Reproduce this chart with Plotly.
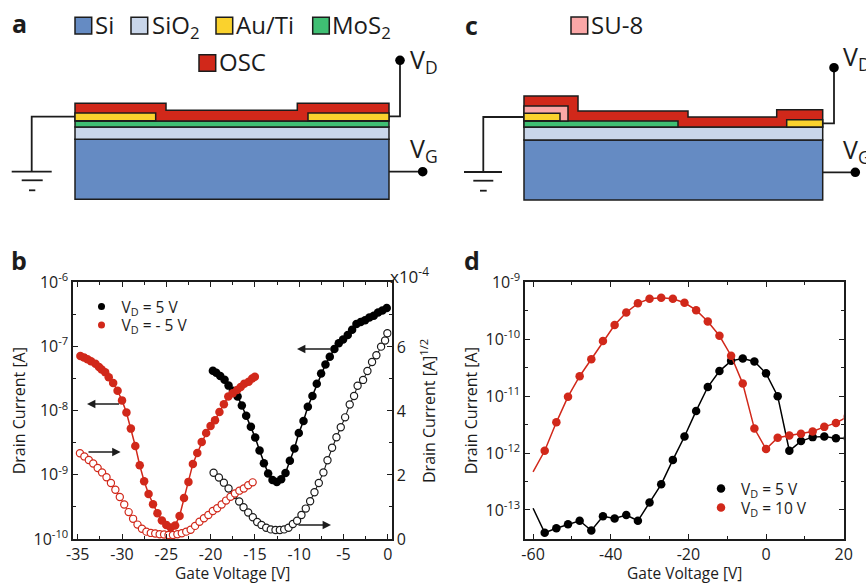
import plotly.graph_objects as go

W, H = 866, 583
FONT = "Open Sans"
INK = "#1c1c1c"
RED = "#d1281a"

# ---------- panel b: drain current (log10 A) and sqrt current (1e-4 A^1/2) ----------
b_red_v = [-34.7,-34.3,-33.9,-33.5,-33.0,-32.6,-32.3,-31.9,-31.5,-31,-30.5,-30,-29.5,-29,-28.5,-28,-27.5,-27,-26.5,-26,-25.5,-25,-24.5,-24,-23.5,-23,-22.5,-22,-21.5,-21,-20.5,-20,-19.5,-19,-18.5,-18,-17.5,-17,-16.6,-16.2,-15.7,-15.3,-15]
b_red_log = [-7.15,-7.17,-7.20,-7.23,-7.27,-7.32,-7.36,-7.40,-7.48,-7.57,-7.69,-7.84,-8.03,-8.28,-8.55,-8.85,-9.10,-9.30,-9.46,-9.60,-9.71,-9.78,-9.82,-9.79,-9.64,-9.36,-9.11,-8.83,-8.66,-8.49,-8.35,-8.24,-8.15,-8.02,-7.90,-7.78,-7.73,-7.68,-7.63,-7.58,-7.55,-7.50,-7.47]
b_blk_v = [-19.74,-19.36,-18.91,-18.42,-17.97,-17.48,-16.95,-16.47,-15.98,-15.45,-14.96,-14.47,-13.98,-13.5,-13.01,-12.52,-12.03,-11.54,-11.05,-10.53,-10.04,-9.51,-9.02,-8.5,-8.01,-7.52,-7.03,-6.54,-6.02,-5.53,-5.04,-4.51,-4.02,-3.53,-3.05,-2.56,-2.07,-1.58,-1.09,-0.6,-0.11]
b_blk_log = [-7.38,-7.41,-7.46,-7.52,-7.61,-7.69,-7.78,-7.92,-8.08,-8.25,-8.42,-8.62,-8.82,-8.98,-9.08,-9.11,-9.07,-8.97,-8.78,-8.59,-8.35,-8.16,-7.94,-7.77,-7.58,-7.42,-7.28,-7.16,-7.04,-6.95,-6.89,-6.82,-6.74,-6.65,-6.62,-6.59,-6.55,-6.52,-6.47,-6.44,-6.40]
b_red_open_v = [-34.75,-34.25,-33.75,-33.25,-32.75,-32.25,-31.75,-31.25,-30.75,-30.25,-29.75,-29.25,-28.75,-28.25,-27.75,-27.25,-26.75,-26.25,-25.75,-25.25,-24.75,-24.25,-23.75,-23.25,-22.75,-22.25,-21.75,-21.25,-20.75,-20.25,-19.75,-19.25,-18.75,-18.25,-17.75,-17.25,-16.75,-16.25,-15.75,-15.25]
b_red_open = [2.68,2.58,2.47,2.36,2.22,2.08,1.93,1.75,1.54,1.31,1.08,0.84,0.63,0.45,0.32,0.23,0.19,0.17,0.15,0.14,0.125,0.125,0.15,0.18,0.23,0.29,0.41,0.54,0.65,0.75,0.875,0.96,1.08,1.20,1.32,1.42,1.51,1.58,1.68,1.77]
b_blk_open_v = [-19.66,-19.06,-18.5,-17.97,-17.37,-16.77,-16.28,-15.75,-15.23,-14.74,-14.25,-13.72,-13.2,-12.67,-12.18,-11.69,-11.2,-10.71,-10.23,-9.74,-9.25,-8.76,-8.27,-7.78,-7.26,-6.8,-6.28,-5.79,-5.3,-4.81,-4.29,-3.8,-3.4,-2.78,-2.29,-1.77,-1.28,-0.75,-0.3,-0.04]
b_blk_open = [2.07,1.92,1.76,1.58,1.375,1.17,0.99,0.83,0.68,0.53,0.44,0.35,0.30,0.28,0.28,0.30,0.35,0.47,0.57,0.75,0.95,1.18,1.46,1.75,2.08,2.46,2.85,3.18,3.49,3.80,4.20,4.47,4.79,4.97,5.25,5.53,5.74,6.01,6.20,6.43]

# ---------- panel d ----------
d_v = [-60,-57,-54,-51,-48,-45,-42,-39,-36,-33,-30,-27,-24,-21,-18,-15,-12,-9,-6,-3,0,3,6,9,12,15,18,21]
d_5v_log = [-12.97,-13.40,-13.32,-13.25,-13.19,-13.36,-13.11,-13.15,-13.09,-13.19,-12.87,-12.55,-12.12,-11.71,-11.26,-10.84,-10.56,-10.38,-10.34,-10.39,-10.60,-11.00,-11.96,-11.79,-11.72,-11.71,-11.74,-11.74]
d_10v_log = [-12.33,-11.96,-11.46,-11.01,-10.65,-10.35,-10.03,-9.75,-9.53,-9.37,-9.29,-9.27,-9.29,-9.36,-9.49,-9.69,-9.94,-10.29,-10.78,-11.57,-11.93,-11.73,-11.69,-11.66,-11.62,-11.54,-11.47,-11.36]

# ---------- schematic colours ----------
C_SI, C_SIO2, C_AU, C_MOS2, C_OSC, C_SU8 = "#658bc3", "#c9d6ea", "#fad22d", "#3fbf73", "#d1281a", "#fba7a7"


def X(x): return x / W
def Y(y): return 1 - y / H


def poly(points, fill, lw=1.5):
    path = "M" + "L".join(f"{X(a):.5f},{Y(b):.5f}" for a, b in points) + "Z"
    return dict(type="path", xref="paper", yref="paper", path=path, fillcolor=fill,
                line=dict(color=INK, width=lw), layer="above")


def rect(x0, y0, x1, y1, fill, lw=1.5):
    return poly([(x0, y0), (x1, y0), (x1, y1), (x0, y1)], fill, lw)


def wire(points, lw=1.8):
    path = "M" + "L".join(f"{X(a):.5f},{Y(b):.5f}" for a, b in points)
    return dict(type="path", xref="paper", yref="paper", path=path,
                line=dict(color=INK, width=lw), layer="above")


def dot(cx, cy, r=4.8):
    return dict(type="circle", xref="paper", yref="paper", x0=X(cx - r), x1=X(cx + r),
                y0=Y(cy + r), y1=Y(cy - r), fillcolor="#000", line=dict(color="#000", width=0), layer="above")


def text(x, y, s, size=24, anchor="left", weight=None, angle=0, family=FONT):
    return dict(xref="paper", yref="paper", x=X(x), y=Y(y), text=s, showarrow=False,
                xanchor=anchor, yanchor="middle", textangle=angle,
                font=dict(family=family, size=size, color=INK, weight=weight))


def arrow(x_tail, x_head, y):
    return dict(xref="paper", yref="paper", x=X(x_head), y=Y(y), ax=x_tail - x_head, ay=0,
                text="", showarrow=True, arrowhead=2, arrowsize=1.2, arrowwidth=1.4, arrowcolor=INK)


shapes = [
    # panel a device
    rect(75, 139.3, 389, 199.3, C_SI), rect(75, 127, 389, 139.3, C_SIO2), rect(75, 121, 389, 127, C_MOS2),
    poly([(75, 103.3), (166, 103.3), (166, 110.3), (297.3, 110.3), (297.3, 103.3), (389, 103.3), (389, 121), (75, 121)], C_OSC),
    rect(75, 113, 155.7, 120.7, C_AU), rect(308, 113, 389, 120.7, C_AU),
    wire([(75, 116.7), (31.7, 116.7), (31.7, 171.7)]),
    wire([(11.7, 171.7), (51.7, 171.7)]), wire([(21.7, 180.3), (42.7, 180.3)]), wire([(29, 190.3), (35.3, 190.3)]),
    wire([(389, 116.3), (400, 116.3), (400, 60.3)]), dot(400, 60.3),
    wire([(389, 171.7), (422.7, 171.7)]), dot(422.7, 171.7),
    rect(75, 17.3, 91.7, 34, C_SI), rect(131, 17.3, 147.7, 34, C_SIO2), rect(216, 17.3, 232.7, 34, C_AU),
    rect(312.7, 17.3, 329.3, 34, C_MOS2), rect(199, 54.7, 215.7, 71.3, C_OSC),
    # panel c device
    rect(524, 140, 822.7, 200, C_SI), rect(524, 127, 822.7, 140, C_SIO2),
    poly([(524, 96), (578, 96), (578, 111), (688, 111), (688, 117), (776.7, 117), (776.7, 109.7), (822.7, 109.7), (822.7, 127), (524, 127)], C_OSC),
    rect(524, 121, 678, 127, C_MOS2), rect(524, 106, 568, 121, C_SU8), rect(524, 113.3, 560, 120.7, C_AU),
    rect(786.7, 119.7, 822.7, 127, C_AU),
    wire([(524, 117), (483.3, 117), (483.3, 172)]),
    wire([(464, 172), (502, 172)]), wire([(473.3, 180.7), (493.3, 180.7)]), wire([(480, 190.7), (486.7, 190.7)]),
    wire([(822.7, 123.3), (834, 123.3), (834, 67.7)]), dot(834, 67.7),
    wire([(822.7, 172.3), (855.3, 172.3)]), dot(855.3, 172.3),
    rect(571, 17, 587.7, 34, C_SU8),
]

annotations = [
    text(10, 23, "a", 25, weight="bold"), text(9, 260, "b", 25, weight="bold"),
    text(463, 25, "c", 25, weight="bold"), text(462, 260, "d", 25, weight="bold"),
    text(92.5, 25, "Si"), text(149.5, 26, "SiO<sub>2</sub>"), text(233.5, 25, "Au/Ti"), text(330, 26, "MoS<sub>2</sub>"),
    text(216.5, 62, "OSC"), text(588.5, 25, "SU-8"),
    text(407.5, 60, "V<sub>D</sub>", 25), text(407.5, 149, "V<sub>G</sub>", 25),
    text(841, 57, "V<sub>D</sub>", 25), text(841, 150, "V<sub>G</sub>", 25),
    text(388, 275, "x10<sup>-4</sup>", 17),
    text(428, 411, "Drain Current [A]<sup>1/2</sup>", 16, anchor="center", angle=-90),
    text(232.5, 572.5, "Gate Voltage [V]", 15.5, anchor="center"),
    text(684.5, 572.5, "Gate Voltage [V]", 15.5, anchor="center"),
    arrow(120.6, 87, 404), arrow(87, 120.6, 452), arrow(331.7, 297, 349), arrow(297, 331, 525),
]

fig = go.Figure()


def pow10(v): return [10 ** a for a in v]


# open symbols, right axis of panel b
fig.add_trace(go.Scatter(x=b_blk_open_v, y=b_blk_open, mode="lines+markers", yaxis="y2", showlegend=False,
                         line=dict(color=INK, width=1.1), marker=dict(size=7.2, color="white", line=dict(color=INK, width=1.2))))
fig.add_trace(go.Scatter(x=b_red_open_v, y=b_red_open, mode="lines+markers", yaxis="y2", showlegend=False,
                         line=dict(color=RED, width=1.1), marker=dict(size=7.2, color="white", line=dict(color=RED, width=1.2))))
# filled symbols, left axis of panel b
for vs, ls, col in [(b_blk_v, b_blk_log, "#000000"), (b_red_v, b_red_log, RED)]:
    fig.add_trace(go.Scatter(x=vs, y=pow10(ls), mode="lines+markers", showlegend=False,
                             line=dict(color=col, width=1.5), marker=dict(size=8.5, color=col)))
# legend entries, panel b
for col, name, leg in [("#000000", "V<sub>D</sub> = 5 V", "legend"), (RED, "V<sub>D</sub> = - 5 V", "legend2")]:
    fig.add_trace(go.Scatter(x=[None], y=[None], mode="markers", name=name, marker=dict(size=7, color=col), legend=leg))

# panel d
for ls, col, name, leg in [(d_5v_log, "#000000", "V<sub>D</sub> = 5 V", "legend3"), (d_10v_log, RED, "V<sub>D</sub> = 10 V", "legend4")]:
    fig.add_trace(go.Scatter(x=d_v, y=pow10(ls), mode="lines", xaxis="x2", yaxis="y3", showlegend=False,
                             line=dict(color=col, width=1.5)))
    fig.add_trace(go.Scatter(x=d_v[1:], y=pow10(ls)[1:], mode="markers", xaxis="x2", yaxis="y3", name=name,
                             marker=dict(size=8.5, color=col), legend=leg))

axis_common = dict(showgrid=False, zeroline=False, showline=True, linecolor=INK, linewidth=1.8, automargin=False,
                   ticks="inside", ticklen=5, tickwidth=1.4, tickcolor=INK,
                   tickfont=dict(family=FONT, size=16, color=INK))
minor_common = dict(ticks="inside", ticklen=3, tickwidth=1.4, tickcolor=INK, showgrid=False)
title_font = dict(family=FONT, size=16, color=INK)

bx_ticks = [-35, -30, -25, -20, -15, -10, -5, 0]
bx_labels = ["-35", "-30", "-25", "-20", "-15", "-10", "-5", "0"]
by_ticks = [1e-10, 1e-9, 1e-8, 1e-7, 1e-6]
by_labels = ["10<sup>-10</sup>", "10<sup>-9</sup>", "10<sup>-8</sup>", "10<sup>-7</sup>", "10<sup>-6</sup>"]
by_minor = [10 ** -9.5, 10 ** -8.5, 10 ** -7.5, 10 ** -6.5]
dx_ticks = [-60, -40, -20, 0, 20]
dx_labels = ["-60", "-40", "-20", "0", "20"]
dy_ticks = [1e-13, 1e-12, 1e-11, 1e-10, 1e-9]
dy_labels = ["10<sup>-13</sup>", "10<sup>-12</sup>", "10<sup>-11</sup>", "10<sup>-10</sup>", "10<sup>-9</sup>"]
dy_minor = [10 ** -12.5, 10 ** -11.5, 10 ** -10.5, 10 ** -9.5]


def one_legend(left, top):
    return dict(x=X(left), y=Y(top), xanchor="left", yanchor="top", bgcolor="rgba(0,0,0,0)",
                font=dict(family=FONT, size=15.5, color=INK), itemclick=False)


fig.update_layout(
    width=W, height=H, margin=dict(l=0, r=0, t=0, b=0, autoexpand=False), paper_bgcolor="white", plot_bgcolor="rgba(0,0,0,0)",
    font=dict(family=FONT, color=INK), shapes=shapes, annotations=annotations,
    xaxis=dict(axis_common, domain=[X(73.3), X(391.7)], range=[-35.5, 0.45], anchor="y", mirror="ticks",
               tickmode="array", tickvals=bx_ticks, ticktext=bx_labels,
               minor=dict(minor_common, dtick=2.5, tick0=0)),
    yaxis=dict(axis_common, type="log", domain=[Y(539), Y(282.3)], range=[-10, -6], anchor="x",
               tickmode="array", tickvals=by_ticks, ticktext=by_labels,
               minor=dict(minor_common, tickmode="array", tickvals=by_minor),
               title=dict(text="Drain Current [A]", font=title_font, standoff=4)),
    yaxis2=dict(axis_common, overlaying="y", side="right", anchor="x", range=[0, 8.02],
                tickmode="array", tickvals=[0, 2, 4, 6], ticktext=["0", "2", "4", "6"],
                minor=dict(minor_common, tickmode="array", tickvals=[1, 3, 5, 7])),
    xaxis2=dict(axis_common, domain=[X(525.3), X(843.7)], range=[-62, 20], anchor="y3", mirror="ticks",
                tickmode="array", tickvals=dx_ticks, ticktext=dx_labels,
                minor=dict(minor_common, dtick=10, tick0=0)),
    yaxis3=dict(axis_common, type="log", domain=[Y(539), Y(282.3)], range=[-13.51, -9], anchor="x2", mirror="ticks",
                tickmode="array", tickvals=dy_ticks, ticktext=dy_labels,
                minor=dict(minor_common, tickmode="array", tickvals=dy_minor),
                title=dict(text="Drain Current [A]", font=title_font, standoff=4)),
    legend=one_legend(81.5, 290),
    legend2=one_legend(81.5, 308.5),
    legend3=one_legend(701, 472),
    legend4=one_legend(701, 491),
)

fig.write_html("out.html", config={"displayModeBar": False}, post_script="document.body.style.margin='0';")
